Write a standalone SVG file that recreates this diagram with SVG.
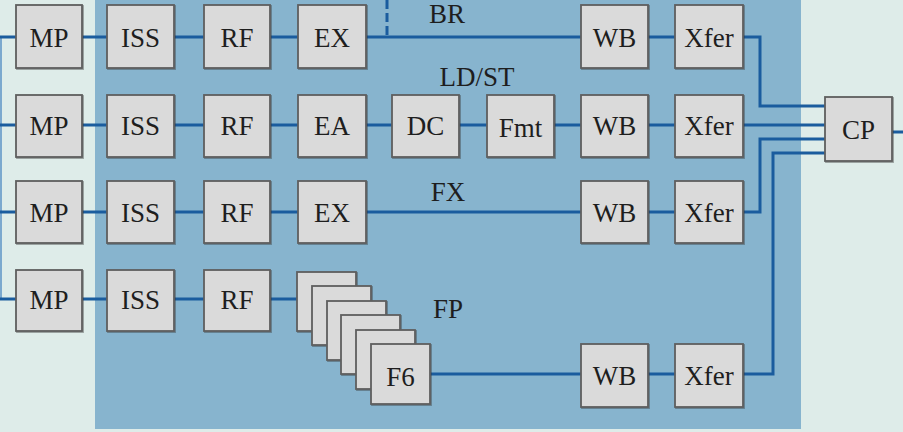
<svg xmlns="http://www.w3.org/2000/svg" width="903" height="432" viewBox="0 0 903 432">
<style>
.box{fill:#dadada;stroke:#5e5e5e;stroke-width:1.8;filter:url(#sh)}
.lbl{font-family:"Liberation Serif","Times New Roman",serif;font-size:27px;fill:#1e1e1e;text-anchor:middle}
.ln{fill:none;stroke:#1a5c9e;stroke-width:3}
</style>
<defs>
<filter id="sh" x="-10%" y="-10%" width="125%" height="125%">
<feDropShadow dx="1" dy="1" stdDeviation="0.6" flood-color="#333" flood-opacity="0.45"/>
</filter>
</defs>
<rect x="0" y="0" width="903" height="432" fill="#deece9"/>
<rect x="95" y="0" width="706" height="429" fill="#87b4ce"/>
<g id="connectors">
<line x1="1" y1="37" x2="1" y2="299" stroke="#5b93c4" stroke-width="1.5"/>
<path class="ln" d="M0 37H16M82 37H107M174 37H204M270 37H298M366 37H581M648 37H675M743 37H760V106H825"/>
<path class="ln" d="M387 0V37" stroke-dasharray="9 4"/>
<path class="ln" d="M0 125H16M82 125H107M174 125H204M270 125H298M366 125H392M459 125H487M554 125H581M648 125H675M743 125H825"/>
<path class="ln" d="M0 212H16M82 212H107M174 212H204M270 212H298M366 212H581M648 212H675M743 212H760V139H825"/>
<path class="ln" d="M0 299H16M82 299H107M174 299H204M270 299H297"/>
<path class="ln" d="M430 374H581M648 374H675M743 374H773V153H825"/>
<path class="ln" d="M892 132H903"/>
</g>
<g id="mp1"><rect class="box" x="16" y="5" width="66" height="63"/><text class="lbl" x="49" y="47">MP</text></g>
<g id="iss1"><rect class="box" x="107" y="5" width="67" height="63"/><text class="lbl" x="140.5" y="47">ISS</text></g>
<g id="rf1"><rect class="box" x="204" y="5" width="66" height="63"/><text class="lbl" x="237" y="47">RF</text></g>
<g id="ex1"><rect class="box" x="298" y="5" width="68" height="63"/><text class="lbl" x="332" y="47">EX</text></g>
<g id="wb1"><rect class="box" x="581" y="5" width="67" height="63"/><text class="lbl" x="614.5" y="47">WB</text></g>
<g id="xfer1"><rect class="box" x="675" y="5" width="68" height="63"/><text class="lbl" x="709" y="47">Xfer</text></g>

<g id="mp2"><rect class="box" x="16" y="95" width="66" height="62"/><text class="lbl" x="49" y="135">MP</text></g>
<g id="iss2"><rect class="box" x="107" y="95" width="67" height="62"/><text class="lbl" x="140.5" y="135">ISS</text></g>
<g id="rf2"><rect class="box" x="204" y="95" width="66" height="62"/><text class="lbl" x="237" y="135">RF</text></g>
<g id="ea"><rect class="box" x="298" y="95" width="68" height="62"/><text class="lbl" x="332" y="135">EA</text></g>
<g id="dc"><rect class="box" x="392" y="95" width="67" height="62"/><text class="lbl" x="425.5" y="135">DC</text></g>
<g id="fmt"><rect class="box" x="487" y="95" width="67" height="62"/><text class="lbl" x="520.5" y="137">Fmt</text></g>
<g id="wb2"><rect class="box" x="581" y="95" width="67" height="62"/><text class="lbl" x="614.5" y="135">WB</text></g>
<g id="xfer2"><rect class="box" x="675" y="95" width="68" height="62"/><text class="lbl" x="709" y="135">Xfer</text></g>

<g id="mp3"><rect class="box" x="16" y="181" width="66" height="62"/><text class="lbl" x="49" y="222">MP</text></g>
<g id="iss3"><rect class="box" x="107" y="181" width="67" height="62"/><text class="lbl" x="140.5" y="222">ISS</text></g>
<g id="rf3"><rect class="box" x="204" y="181" width="66" height="62"/><text class="lbl" x="237" y="222">RF</text></g>
<g id="ex3"><rect class="box" x="298" y="181" width="68" height="62"/><text class="lbl" x="332" y="222">EX</text></g>
<g id="wb3"><rect class="box" x="581" y="181" width="67" height="62"/><text class="lbl" x="614.5" y="222">WB</text></g>
<g id="xfer3"><rect class="box" x="675" y="181" width="68" height="62"/><text class="lbl" x="709" y="222">Xfer</text></g>

<g id="mp4"><rect class="box" x="16" y="270" width="66" height="61"/><text class="lbl" x="49" y="309">MP</text></g>
<g id="iss4"><rect class="box" x="107" y="270" width="67" height="61"/><text class="lbl" x="140.5" y="309">ISS</text></g>
<g id="rf4"><rect class="box" x="204" y="270" width="66" height="61"/><text class="lbl" x="237" y="309">RF</text></g>
<g id="fstack">
<rect class="box" x="297" y="272" width="59" height="59"/>
<rect class="box" x="312" y="286" width="59" height="59"/>
<rect class="box" x="327" y="301" width="59" height="59"/>
<rect class="box" x="341" y="315" width="59" height="59"/>
<rect class="box" x="356" y="330" width="59" height="59"/>
<rect class="box" x="371" y="344" width="59" height="60"/>
<text class="lbl" x="400.5" y="386">F6</text>
</g>
<g id="wb4"><rect class="box" x="581" y="344" width="67" height="63"/><text class="lbl" x="614.5" y="385">WB</text></g>
<g id="xfer4"><rect class="box" x="675" y="344" width="68" height="63"/><text class="lbl" x="709" y="385">Xfer</text></g>

<g id="cp"><rect class="box" x="825" y="97" width="67" height="64"/><text class="lbl" x="858.5" y="139">CP</text></g>

<g id="labels">
<text class="lbl" x="447" y="23">BR</text>
<text class="lbl" x="477" y="86">LD/ST</text>
<text class="lbl" x="448" y="201">FX</text>
<text class="lbl" x="448" y="318">FP</text>
</g>
</svg>
